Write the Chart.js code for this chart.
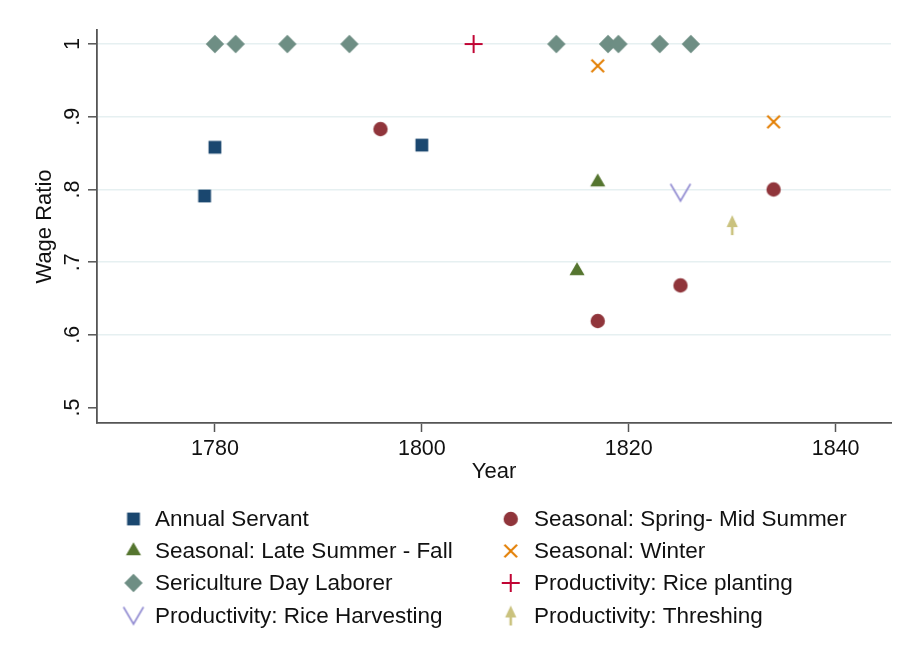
<!DOCTYPE html>
<html>
<head>
<meta charset="utf-8">
<script src="https://cdn.jsdelivr.net/npm/chart.js@4.4.1/dist/chart.umd.min.js"></script>
<style>
  html, body { margin: 0; padding: 0; background: #ffffff; }
  #wrap { width: 902px; height: 664px; position: relative; }
  canvas { display: block; }
</style>
</head>
<body>
<div id="wrap"><canvas id="c" width="902" height="664"></canvas></div>
<script>
// ---------- data ----------
const seriesNames = [
  "Annual Servant",
  "Seasonal: Spring- Mid Summer",
  "Seasonal: Late Summer - Fall",
  "Seasonal: Winter",
  "Sericulture Day Laborer",
  "Productivity: Rice planting",
  "Productivity: Rice Harvesting",
  "Productivity: Threshing"
];
const annualYears  = [1779, 1780, 1800];
const annualRatio  = [0.791, 0.858, 0.861];
const springYears  = [1796, 1817, 1825, 1834];
const springRatio  = [0.883, 0.619, 0.668, 0.800];
const lateYears    = [1815, 1817];
const lateRatio    = [0.688, 0.810];
const winterYears  = [1817, 1834];
const winterRatio  = [0.970, 0.893];
const seriYears    = [1780, 1782, 1787, 1793, 1813, 1818, 1819, 1823, 1826];
const seriRatio    = [1, 1, 1, 1, 1, 1, 1, 1, 1];
const plantYears   = [1805];
const plantRatio   = [1];
const harvYears    = [1825];
const harvRatio    = [0.796];
const threshYears  = [1830];
const threshRatio  = [0.751];

const xTickValues = [1780, 1800, 1820, 1840];
const yTickValues = [0.5, 0.6, 0.7, 0.8, 0.9, 1];
const yTickLabels = [".5", ".6", ".7", ".8", ".9", "1"];

// ---------- styling ----------
const FONT = "'Liberation Sans', Arial, sans-serif";
const colors = {
  navy: "#1a476f", maroon: "#90353b", green: "#55752f", orange: "#e37e00",
  teal: "#6e8e84", cranberry: "#c10534", lavender: "#938dd2", khaki: "#cac27e"
};

function marker(kind, color) {
  const s = 26, m = s / 2;
  const c = document.createElement('canvas');
  c.width = s; c.height = s;
  const g = c.getContext('2d');
  g.fillStyle = color; g.strokeStyle = color; g.lineWidth = 2; g.lineCap = 'butt';
  g.beginPath();
  switch (kind) {
    case 'square': g.fillRect(m - 6.4, m - 6.4, 12.8, 12.8); break;
    case 'circle': g.arc(m, m, 7.2, 0, Math.PI * 2); g.fill(); break;
    case 'triangle': {
      const r = 8.7;
      g.moveTo(m, m - r);
      g.lineTo(m + r * 0.866, m + r * 0.5);
      g.lineTo(m - r * 0.866, m + r * 0.5);
      g.closePath(); g.fill(); break;
    }
    case 'x': {
      const h = 6.3;
      g.moveTo(m - h, m - h); g.lineTo(m + h, m + h);
      g.moveTo(m + h, m - h); g.lineTo(m - h, m + h);
      g.stroke(); break;
    }
    case 'diamond': {
      const r = 9.2;
      g.moveTo(m, m - r); g.lineTo(m + r, m); g.lineTo(m, m + r); g.lineTo(m - r, m);
      g.closePath(); g.fill(); break;
    }
    case 'plus': {
      const h = 9;
      g.moveTo(m - h, m); g.lineTo(m + h, m);
      g.moveTo(m, m - h); g.lineTo(m, m + h);
      g.stroke(); break;
    }
    case 'v': {
      g.lineWidth = 1.7;
      g.moveTo(m - 10, m - 8.5); g.lineTo(m, m + 8.5); g.lineTo(m + 10, m - 8.5);
      g.stroke(); break;
    }
    case 'arrow': {
      g.moveTo(m, m - 10); g.lineTo(m + 5.6, m + 2); g.lineTo(m - 5.6, m + 2);
      g.closePath(); g.fill();
      g.fillRect(m - 1.3, m, 2.6, 10);
      break;
    }
  }
  return c;
}

const markerKinds = ['square', 'circle', 'triangle', 'x', 'diamond', 'plus', 'v', 'arrow'];
const markerColors = [colors.navy, colors.maroon, colors.green, colors.orange,
                      colors.teal, colors.cranberry, colors.lavender, colors.khaki];
const markerImgs = markerKinds.map((k, i) => marker(k, markerColors[i]));

const xs = [annualYears, springYears, lateYears, winterYears, seriYears, plantYears, harvYears, threshYears];
const ys = [annualRatio, springRatio, lateRatio, winterRatio, seriRatio, plantRatio, harvRatio, threshRatio];

const datasets = seriesNames.map((name, i) => ({
  label: name,
  data: xs[i].map((x, j) => ({ x: x, y: ys[i][j] })),
  pointStyle: markerImgs[i],
  pointRadius: 6,
  showLine: false,
  order: 8 - i
}));

// ---------- legend plugin ----------
const legendPlugin = {
  id: 'stataLegend',
  afterDraw(chart) {
    const ctx = chart.ctx;
    const colMarkerX = [133.5, 510.7];
    const colTextX = [155, 534];
    const rowY = [520, 552, 584, 616.5];
    ctx.save();
    ctx.font = "22.5px " + FONT;
    ctx.fillStyle = "#111111";
    ctx.textBaseline = 'middle';
    ctx.textAlign = 'left';
    seriesNames.forEach((name, i) => {
      const col = i % 2, row = Math.floor(i / 2);
      const img = markerImgs[i];
      ctx.drawImage(img, colMarkerX[col] - img.width / 2, rowY[row] - 1 - img.height / 2);
      ctx.fillText(name, colTextX[col], rowY[row]);
    });
    ctx.restore();
  }
};

const gridColor = "#e6f0f1";
const axisColor = "#555555";

new Chart(document.getElementById('c'), {
  type: 'scatter',
  data: { datasets },
  plugins: [legendPlugin],
  options: {
    responsive: false,
    animation: false,
    devicePixelRatio: 1,
    events: [],
    layout: { padding: { left: 0, top: 30, right: 11, bottom: 179 } },
    plugins: { legend: { display: false }, tooltip: { enabled: false } },
    scales: {
      x: {
        type: 'linear',
        min: 1768.6,
        max: 1845.35,
        afterBuildTicks: s => { s.ticks = xTickValues.map(v => ({ value: v })); },
        afterFit: s => { s.height = 62; },
        ticks: {
          padding: 4,
          color: "#111111",
          font: { family: FONT, size: 21.5 },
          maxRotation: 0,
          callback: v => String(v)
        },
        grid: { drawOnChartArea: false, tickLength: 9, tickColor: axisColor, tickWidth: 1.5 },
        border: { color: axisColor, width: 1.8 },
        title: {
          display: true, text: "Year", color: "#111111",
          font: { family: FONT, size: 22 },
          padding: { top: 0, bottom: 0 }
        }
      },
      y: {
        type: 'linear',
        min: 0.4788,
        max: 1.0193,
        afterBuildTicks: s => { s.ticks = yTickValues.map(v => ({ value: v })); },
        afterFit: s => { s.width = 97; },
        ticks: {
          padding: 6,
          color: "#111111",
          font: { family: FONT, size: 21.5 },
          minRotation: 90,
          maxRotation: 90,
          crossAlign: 'center',
          callback: (v) => {
            const idx = yTickValues.findIndex(t => Math.abs(t - v) < 1e-6);
            return idx >= 0 ? yTickLabels[idx] : '';
          }
        },
        grid: {
          color: c => (c.tick && Math.abs(c.tick.value - 0.5) < 1e-6) ? 'rgba(0,0,0,0)' : gridColor,
          lineWidth: 1.6,
          tickLength: 9, tickColor: axisColor, tickWidth: 1.5
        },
        border: { color: axisColor, width: 1.8 },
        title: {
          display: true, text: "Wage Ratio", color: "#111111",
          font: { family: FONT, size: 22 },
          padding: { top: 31.5, bottom: 0 }
        }
      }
    }
  }
});
</script>
</body>
</html>
